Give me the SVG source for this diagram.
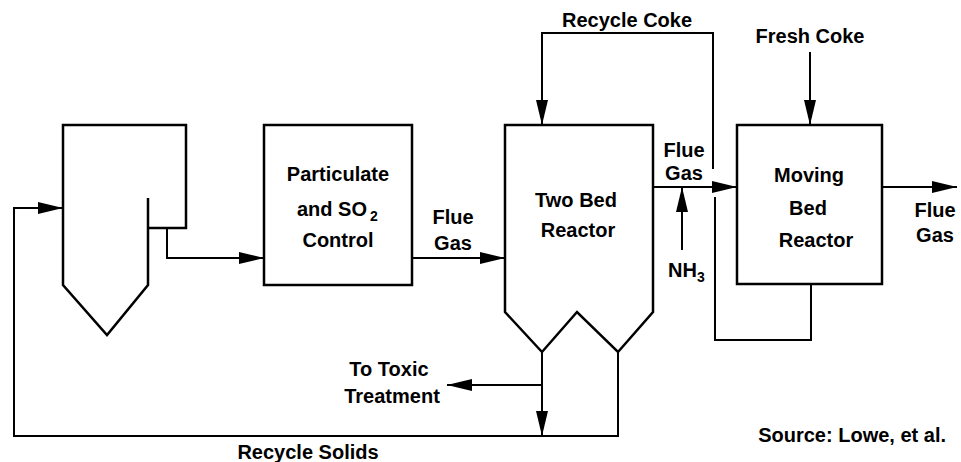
<svg xmlns="http://www.w3.org/2000/svg" width="961" height="462" viewBox="0 0 961 462">
<style>
.shape{fill:none;stroke:#000;stroke-width:2.5;stroke-linejoin:miter}
.line{fill:none;stroke:#000;stroke-width:2}
.arr{marker-end:url(#ah)}
text{font-family:"Liberation Sans",Arial,sans-serif;font-weight:bold;font-size:20px;fill:#000}
.c{text-anchor:middle}
</style>
<defs>
<marker id="ah" markerUnits="userSpaceOnUse" markerWidth="25" markerHeight="12" refX="25" refY="6" orient="auto">
<path d="M0,0 L25,6 L0,12 Z" fill="#000"/>
</marker>
</defs>
<rect width="961" height="462" fill="#fff"/>
<g id="boiler">
<path class="shape" d="M148,198 L148,285 L107,335 L63,285 L63,125 L186,125 L186,228 L148,228"/>
</g>
<g id="particulate">
<rect class="shape" x="264" y="125" width="148" height="160"/>
<text class="c" x="338" y="181">Particulate</text>
<text x="297" y="216">and SO<tspan dx="3" dy="5" font-size="14">2</tspan></text>
<text class="c" x="338" y="247">Control</text>
</g>
<g id="twobed">
<path class="shape" d="M505,125 L653,125 L653,312 L618,352 L577,312 L542,352 L505,312 Z"/>
<text class="c" x="576" y="207">Two Bed</text>
<text class="c" x="578" y="237">Reactor</text>
</g>
<g id="movingbed">
<rect class="shape" x="737" y="125" width="145" height="159"/>
<text class="c" x="809" y="182">Moving</text>
<text class="c" x="808" y="215">Bed</text>
<text class="c" x="816" y="247">Reactor</text>
</g>
<g id="connectors">
<path class="line arr" d="M618,352 L618,436 L14,436 L14,208 L63,208"/>
<path class="line arr" d="M542,352 L542,436"/>
<path class="line arr" d="M542,385 L447,385"/>
<path class="line arr" d="M167,228 L167,258 L264,258"/>
<path class="line arr" d="M412,258 L505,258"/>
<path class="line arr" d="M713,169 L713,33 L542,33 L542,125"/>
<path class="line" d="M811,284 L811,340 L715,340 L715,197"/>
<path class="line arr" d="M653,187 L737,187"/>
<path class="line arr" d="M682,250 L682,187"/>
<path class="line arr" d="M810,52 L810,125"/>
<path class="line arr" d="M882,187 L957,187"/>
</g>
<g id="labels">
<text class="c" x="627" y="27">Recycle Coke</text>
<text class="c" x="810" y="43">Fresh Coke</text>
<text class="c" x="453" y="224">Flue</text>
<text class="c" x="453" y="250">Gas</text>
<text class="c" x="684" y="157">Flue</text>
<text class="c" x="684" y="180">Gas</text>
<text x="668" y="277">NH<tspan dy="5" font-size="14">3</tspan></text>
<text class="c" x="935" y="217">Flue</text>
<text class="c" x="935" y="242">Gas</text>
<text class="c" x="389" y="376">To Toxic</text>
<text class="c" x="392" y="403">Treatment</text>
<text class="c" x="308" y="459">Recycle Solids</text>
<text x="946" y="442" font-size="13" text-anchor="end">Source: Lowe, et al.</text>
</g>
</svg>
